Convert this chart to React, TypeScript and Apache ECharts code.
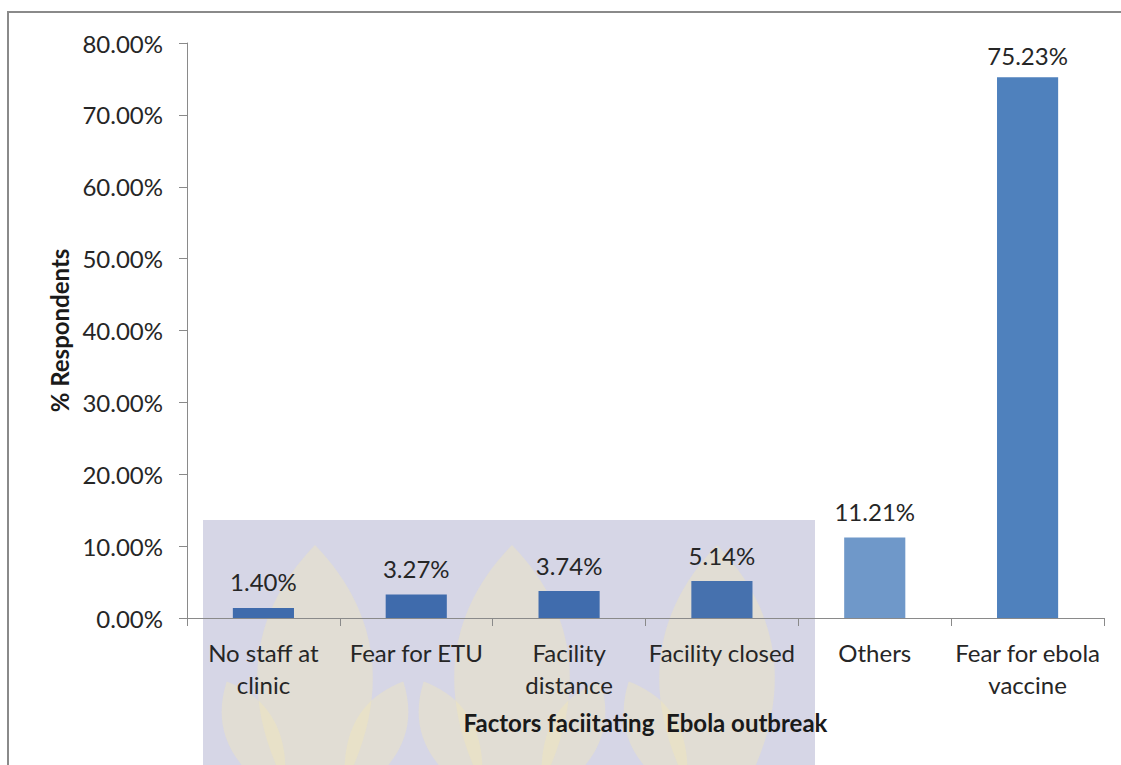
import React, { useEffect, useRef } from "react";
import * as echarts from "echarts";

const categories = [
  "No staff at\nclinic",
  "Fear for ETU",
  "Facility\ndistance",
  "Facility closed",
  "Others",
  "Fear for ebola\nvaccine",
];
const values = [1.4, 3.27, 3.74, 5.14, 11.21, 75.23];
const barColors = ["#3f6bac", "#3f6bac", "#406cad", "#4671ae", "#6f98c9", "#4f81bd"];
const yMin = 0;
const yMax = 80;
const yInterval = 10;

echarts.graphic.registerShape(
  "leaf",
  echarts.graphic.extendPath("M0,-100 C35,-55 50,10 0,100 C-50,10 -35,-55 0,-100 Z", {})
);

const FONT = "Lato, 'Open Sans', sans-serif";

export default function App() {
  const ref = useRef<HTMLDivElement>(null);
  useEffect(() => {
    if (!ref.current) return;
    const chart = echarts.init(ref.current, undefined, { renderer: "svg" });
    const leafStyle = { fill: "rgba(245,234,180,0.36)" };
    const leaves: any[] = [];
    [315, 512, 717].forEach((cx, k) => {
      leaves.push({ type: "leaf", x: cx, y: 690, scaleX: 1.8, scaleY: 1.45, style: leafStyle, z: -9 });
      leaves.push({ type: "leaf", x: cx - 60, y: 740, scaleX: 0.8, scaleY: 0.65, rotation: 0.45, style: leafStyle, z: -9 });
      if (k < 2) {
        leaves.push({ type: "leaf", x: cx + 60, y: 740, scaleX: 0.8, scaleY: 0.65, rotation: -0.45, style: leafStyle, z: -9 });
      }
    });
    chart.setOption({
      animation: false,
      backgroundColor: "#ffffff",
      graphic: [
        {
          type: "rect",
          shape: { x: 8, y: 12, width: 1300, height: 900 },
          style: { fill: "none", stroke: "#8a8a8a", lineWidth: 2 },
          z: -10,
        },
        {
          type: "rect",
          shape: { x: 203, y: 520, width: 612, height: 260 },
          style: { fill: "#d6d6e6" },
          z: -10,
        },
        ...leaves,
      ],
      grid: { left: 187, right: 17, top: 43, bottom: 147, containLabel: false },
      xAxis: {
        type: "category",
        data: categories,
        name: "Factors faciitating  Ebola outbreak",
        nameLocation: "middle",
        nameGap: 92,
        nameTextStyle: { fontFamily: FONT, fontSize: 24, fontWeight: "bold", color: "#1a1a1a" },
        axisLine: { lineStyle: { color: "#8a8a8a", width: 1 } },
        axisTick: { show: true, length: 8, lineStyle: { color: "#8a8a8a" } },
        axisLabel: {
          fontFamily: FONT,
          fontSize: 24,
          color: "#262626",
          lineHeight: 32,
          margin: 18,
          interval: 0,
        },
      },
      yAxis: {
        type: "value",
        min: yMin,
        max: yMax,
        interval: yInterval,
        name: "% Respondents",
        nameLocation: "middle",
        nameGap: 114,
        nameRotate: 90,
        nameTextStyle: { fontFamily: FONT, fontSize: 24, fontWeight: "bold", color: "#1a1a1a" },
        axisLine: { show: true, lineStyle: { color: "#8a8a8a", width: 1 } },
        axisTick: { show: true, length: 8, lineStyle: { color: "#8a8a8a" } },
        splitLine: { show: false },
        axisLabel: {
          fontFamily: FONT,
          fontSize: 24,
          color: "#262626",
          margin: 24,
          formatter: (v: number) => v.toFixed(2) + "%",
        },
      },
      series: [
        {
          type: "bar",
          barWidth: "40%",
          data: values.map((v, i) => ({
            value: v,
            itemStyle: { color: barColors[i] },
            label: i === values.length - 1 ? { distance: 10 } : undefined,
          })),
          label: {
            show: true,
            position: "top",
            distance: 14,
            fontFamily: FONT,
            fontSize: 24,
            color: "#262626",
            formatter: (p: any) => Number(p.value).toFixed(2) + "%",
          },
        },
      ],
    });
    return () => chart.dispose();
  }, []);
  return (
    <div
      ref={ref}
      style={{ position: "fixed", left: 0, top: 0, width: 1121, height: 765 }}
    />
  );
}
